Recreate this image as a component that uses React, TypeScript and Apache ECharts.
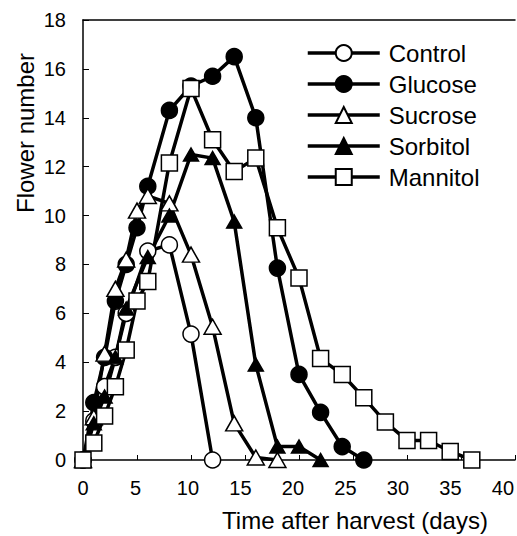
import React, { useEffect, useRef } from "react";
import * as echarts from "echarts";

const xTickLabels = [0, 5, 10, 15, 20, 25, 30, 35, 40];
const yTickLabels = [0, 2, 4, 6, 8, 10, 12, 14, 16, 18];

const controlDays = [0, 1, 2, 3, 4, 6, 8, 10, 12];
const controlValues = [0, 1.6, 3.0, 4.2, 6.0, 8.55, 8.8, 5.15, 0];

const glucoseDays = [0, 1, 2, 3, 4, 5, 6, 8, 10, 12, 14, 16, 18, 20, 22, 24, 26];
const glucoseValues = [0, 2.35, 4.2, 6.5, 8.0, 9.5, 11.2, 14.3, 15.3, 15.7, 16.5, 14.0, 7.85, 3.5, 1.95, 0.55, 0];

const sucroseDays = [0, 1, 2, 3, 4, 5, 6, 8, 10, 12, 14, 16, 18];
const sucroseValues = [0, 1.75, 4.35, 7.0, 8.2, 10.2, 10.8, 10.5, 8.4, 5.45, 1.5, 0.1, 0];

const sorbitolDays = [0, 1, 2, 3, 4, 6, 8, 10, 12, 14, 16, 18, 20, 22];
const sorbitolValues = [0, 1.5, 2.6, 4.2, 6.2, 8.3, 10.0, 12.5, 12.35, 9.75, 3.9, 0.55, 0.55, 0];

const mannitolDays = [0, 1, 2, 3, 4, 5, 6, 8, 10, 12, 14, 16, 18, 20, 22, 24, 26, 28, 30, 32, 34, 36];
const mannitolValues = [0, 0.7, 1.8, 3.0, 4.5, 6.5, 7.3, 12.15, 15.2, 13.1, 11.8, 12.35, 9.5, 7.45, 4.15, 3.5, 2.55, 1.55, 0.8, 0.8, 0.35, 0];

const zip = (xs: number[], ys: number[]) => xs.map((x, i) => [x, ys[i]]);

const FONT = "'Liberation Sans', Arial, sans-serif";

export default function App() {
  const ref = useRef<HTMLDivElement>(null);
  useEffect(() => {
    if (!ref.current) return;
    const chart = echarts.init(ref.current, undefined, { renderer: "svg" });
    const mk = (name: string, xs: number[], ys: number[], symbol: string, size: any, fill: string) => ({
      name,
      type: "line",
      xAxisIndex: 0,
      yAxisIndex: 0,
      data: zip(xs, ys),
      symbol,
      symbolSize: size,
      showAllSymbol: true,
      lineStyle: { color: "#000", width: 3.5 },
      itemStyle: { color: fill, borderColor: "#000", borderWidth: 1.5 },
      emphasis: { disabled: true },
    });
    chart.setOption({
      animation: false,
      backgroundColor: "#fff",
      textStyle: { fontFamily: FONT },
      grid: [
        { left: 83, right: 2, top: 20, bottom: 76 },
        { left: 83, right: 12, top: 20, bottom: 76 },
      ],
      xAxis: [
        {
          type: "value",
          gridIndex: 0,
          min: 0,
          max: 40,
          interval: 5,
          position: "bottom",
          axisLine: { show: true, lineStyle: { color: "#000", width: 1.5 } },
          axisTick: { show: true, inside: true, length: 5, lineStyle: { color: "#000", width: 1 } },
          axisLabel: { show: false },
          splitLine: { show: false },
        },
        {
          type: "value",
          gridIndex: 0,
          min: 0,
          max: 40,
          position: "top",
          axisLine: { show: true, onZero: false, lineStyle: { color: "#000", width: 1.5 } },
          axisTick: { show: false },
          axisLabel: { show: false },
          splitLine: { show: false },
        },
        {
          type: "value",
          gridIndex: 1,
          min: 0,
          max: 40,
          interval: 5,
          axisLine: { show: false },
          axisTick: { show: false },
          splitLine: { show: false },
          axisLabel: {
            show: true,
            margin: 18,
            fontSize: 20,
            color: "#000",
            fontFamily: FONT,
            formatter: (v: number) => (xTickLabels.includes(v) ? String(v) : ""),
          },
        },
      ],
      yAxis: [
        {
          type: "value",
          gridIndex: 0,
          min: 0,
          max: 18,
          interval: 2,
          axisLine: { show: true, lineStyle: { color: "#000", width: 1.5 } },
          axisTick: { show: true, inside: true, length: 6, lineStyle: { color: "#000", width: 1 } },
          axisLabel: {
            show: true,
            margin: 17,
            fontSize: 20,
            color: "#000",
            fontFamily: FONT,
            formatter: (v: number) => (yTickLabels.includes(v) ? String(v) : ""),
          },
          splitLine: { show: false },
        },
        {
          type: "value",
          gridIndex: 1,
          min: 0,
          max: 18,
          show: false,
        },
      ],
      legend: {
        orient: "vertical",
        left: 306,
        top: 41,
        padding: 0,
        itemWidth: 72,
        itemHeight: 20,
        itemGap: 7,
        selectedMode: false,
        lineStyle: { width: 3.5, color: "#000" },
        textStyle: { fontSize: 24, lineHeight: 24, color: "#000", fontFamily: FONT, padding: [0, 0, 0, 4] },
        data: ["Control", "Glucose", "Sucrose", "Sorbitol", "Mannitol"],
      },
      graphic: [
        {
          type: "text",
          x: 25,
          y: 133,
          rotation: Math.PI / 2,
          style: {
            text: "Flower number",
            fontSize: 24,
            fontFamily: FONT,
            fill: "#000",
            align: "center",
            verticalAlign: "middle",
          },
        },
        {
          type: "text",
          x: 355,
          y: 520,
          style: {
            text: "Time after harvest (days)",
            fontSize: 24,
            fontFamily: FONT,
            fill: "#000",
            align: "center",
            verticalAlign: "middle",
          },
        },
      ],
      series: [
        mk("Control", controlDays, controlValues, "circle", 16, "#fff"),
        mk("Glucose", glucoseDays, glucoseValues, "circle", 16, "#000"),
        mk("Sucrose", sucroseDays, sucroseValues, "triangle", [17, 15], "#fff"),
        mk("Sorbitol", sorbitolDays, sorbitolValues, "triangle", [15, 13], "#000"),
        mk("Mannitol", mannitolDays, mannitolValues, "rect", 16, "#fff"),
      ],
    });
    return () => chart.dispose();
  }, []);
  return <div ref={ref} style={{ position: "absolute", left: 0, top: 0, width: 517, height: 536 }} />;
}
